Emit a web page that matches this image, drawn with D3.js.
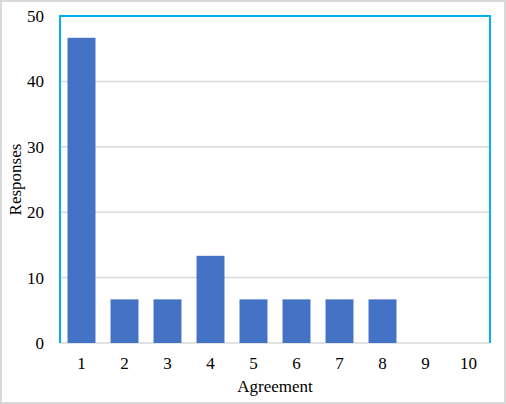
<!DOCTYPE html>
<html>
<head>
<meta charset="utf-8">
<script src="https://cdn.jsdelivr.net/npm/d3@7"></script>
<style>
  body { margin: 0; background: #fff; }
  text { font-family: "Liberation Serif", "Times New Roman", serif; fill: #000; }
</style>
</head>
<body>
<div id="chart"></div>
<script>
var categories = ["1", "2", "3", "4", "5", "6", "7", "8", "9", "10"];
var responses = [46.67, 6.67, 6.67, 13.33, 6.67, 6.67, 6.67, 6.67, 0, 0];
var yTicks = [0, 10, 20, 30, 40, 50];

var W = 506, H = 404;
var margin = { top: 16, right: 16, bottom: 61, left: 60 },
    width = 490 - margin.left,
    height = 343 - margin.top;

var svg = d3.select("#chart").append("svg")
    .attr("width", W)
    .attr("height", H);

// outer frame
svg.append("rect")
    .attr("x", 1).attr("y", 1)
    .attr("width", W - 2).attr("height", H - 2)
    .attr("fill", "#fff")
    .attr("stroke", "#d9d9d9")
    .attr("stroke-width", 2);

var g = svg.append("g")
    .attr("transform", "translate(" + margin.left + "," + margin.top + ")");

var x = d3.scaleBand()
    .domain(categories)
    .range([0, width])
    .paddingInner(0.35)
    .paddingOuter(0.175);

var y = d3.scaleLinear()
    .domain([0, 50])
    .range([height, 0]);

// gridlines
g.selectAll(".grid")
    .data(yTicks)
    .enter().append("line")
    .attr("class", "grid")
    .attr("x1", 0).attr("x2", width)
    .attr("y1", function(d) { return y(d); })
    .attr("y2", function(d) { return y(d); })
    .attr("stroke", "#d9d9d9")
    .attr("stroke-width", 1.5);

// bars
g.selectAll(".bar")
    .data(responses)
    .enter().append("rect")
    .attr("class", "bar")
    .attr("x", function(d, i) { return x(categories[i]); })
    .attr("width", x.bandwidth())
    .attr("y", function(d) { return y(d); })
    .attr("height", function(d) { return height - y(d); })
    .attr("fill", "#4472c4");

// plot border: left, top, right in blue
g.append("path")
    .attr("d", "M0," + height + "V0H" + width + "V" + height)
    .attr("fill", "none")
    .attr("stroke", "#00b0f0")
    .attr("stroke-width", 2);

// y axis labels
var yAxis = d3.axisLeft(y).tickValues(yTicks).tickSize(0).tickPadding(16);
var yg = g.append("g").call(yAxis);
yg.select(".domain").remove();
yg.selectAll("text").style("font-size", "17px").style("font-family", "Liberation Serif, serif");

// x axis labels
var xAxis = d3.axisBottom(x).tickSize(0).tickPadding(14);
var xg = g.append("g")
    .attr("transform", "translate(0," + height + ")")
    .call(xAxis);
xg.select(".domain").remove();
xg.selectAll("text").style("font-size", "17px").style("font-family", "Liberation Serif, serif");

// axis titles
svg.append("text")
    .attr("x", margin.left + width / 2)
    .attr("y", 392)
    .attr("text-anchor", "middle")
    .style("font-size", "17px")
    .text("Agreement");

svg.append("text")
    .attr("transform", "translate(21," + (margin.top + height / 2) + ") rotate(-90)")
    .attr("text-anchor", "middle")
    .style("font-size", "17px")
    .text("Responses");
</script>
</body>
</html>
